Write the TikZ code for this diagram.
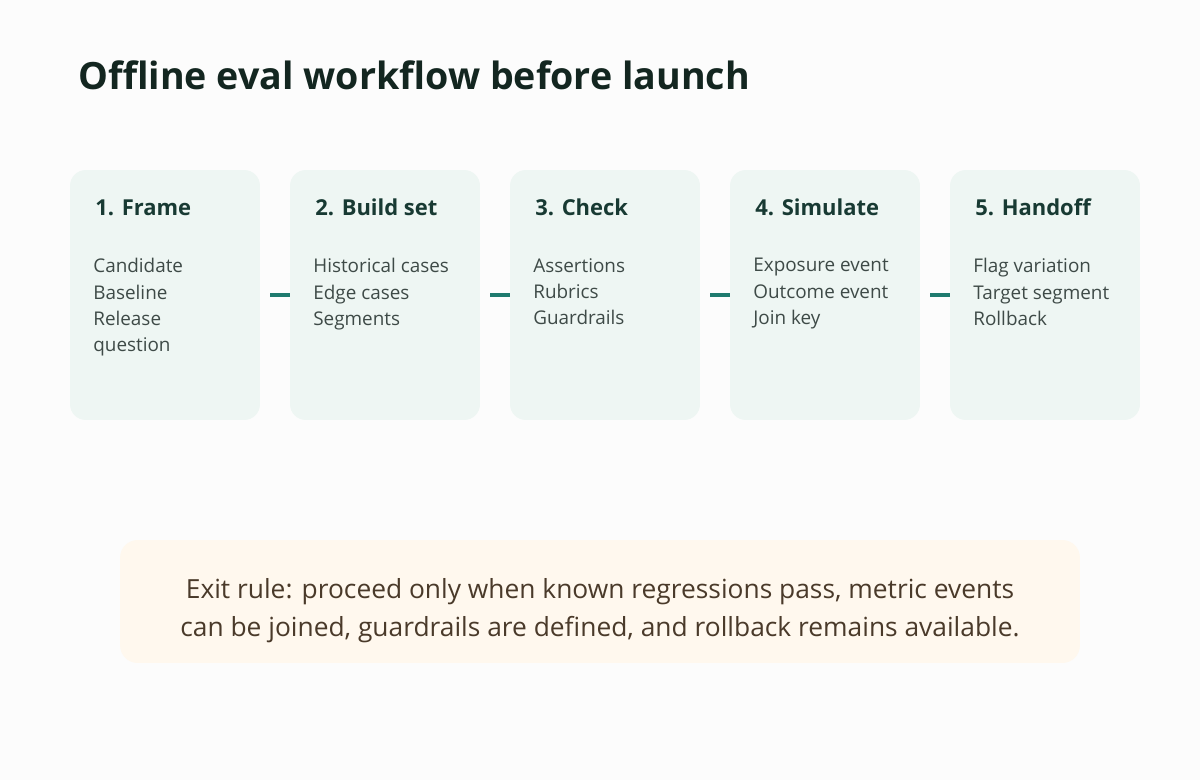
\documentclass[tikz,border=0pt]{standalone}
\usepackage{fontspec}
\setmainfont{Open Sans}
\usepackage{tikz}
\usetikzlibrary{arrows.meta}
\usetikzlibrary{positioning}

\definecolor{pagebg}{HTML}{FCFCFC}
\definecolor{stagefill}{HTML}{EEF6F3}
\definecolor{notefill}{HTML}{FFF8EE}
\definecolor{headink}{HTML}{132620}
\definecolor{stageink}{HTML}{183A33}
\definecolor{bodyink}{HTML}{3E4A47}
\definecolor{noteink}{HTML}{4A3A2A}
\definecolor{linkteal}{HTML}{1F7A6E}

\begin{document}
\begin{tikzpicture}[x=0.02cm, y=-0.02cm]
	\fill[pagebg] (0,0) rectangle (1200,780);
	\useasboundingbox (0,0) rectangle (1200,780);

	\node[anchor=base west, inner sep=0pt, text=headink, font=\fontsize{21.4}{25}\selectfont\bfseries] (title) at (78,90) {Offline eval workflow before launch};

	\begin{scope}[every node/.style={rectangle, rounded corners=9pt, fill=stagefill, minimum width=3.8cm, minimum height=5cm, inner sep=0pt}]
		\node (s1) at (165,295) {};
		\node (s2) at (385,295) {};
		\node (s3) at (605,295) {};
		\node (s4) at (825,295) {};
		\node (s5) at (1045,295) {};
	\end{scope}

	\begin{scope}[every node/.style={anchor=base west, inner sep=0pt, text=stageink, font=\fontsize{12.5}{15}\selectfont\bfseries}]
		\node (t1) at (95,216) {1. Frame};
		\node (t2) at (315,216) {2. Build set};
		\node (t3) at (535,216) {3. Check};
		\node (t4) at (755,216) {4. Simulate};
		\node (t5) at (975,216) {5. Handoff};
	\end{scope}

	\begin{scope}[every node/.style={anchor=north west, inner sep=0pt, align=left, text=bodyink, font=\fontsize{10.75}{15}\selectfont}]
		\node (b1) at (93,258) {Candidate\\Baseline\\Release\\question};
		\node (b2) at (313,258) {Historical cases\\Edge cases\\Segments};
		\node (b3) at (533,258) {Assertions\\Rubrics\\Guardrails};
		\node (b4) at (753,258) {Exposure event\\Outcome event\\Join key};
		\node (b5) at (973,258) {Flag variation\\Target segment\\Rollback};
	\end{scope}

	\begin{scope}[every edge/.style={draw=linkteal, line width=2.3pt, shorten <=5.7pt}]
		\path (s1) edge (s2);
		\path (s2) edge (s3);
		\path (s3) edge (s4);
		\path (s4) edge (s5);
	\end{scope}

	\node[rectangle, rounded corners=10pt, fill=notefill, minimum width=19.2cm, minimum height=2.46cm, inner sep=0pt] (exit) at (600,601.5) {};
	\node[align=center, inner sep=0pt, text=noteink, font=\fontsize{15}{21.5}\selectfont] (rule) at (600,611) {Exit rule: proceed only when known regressions pass, metric events\\can be joined, guardrails are defined, and rollback remains available.};
\end{tikzpicture}
\end{document}
